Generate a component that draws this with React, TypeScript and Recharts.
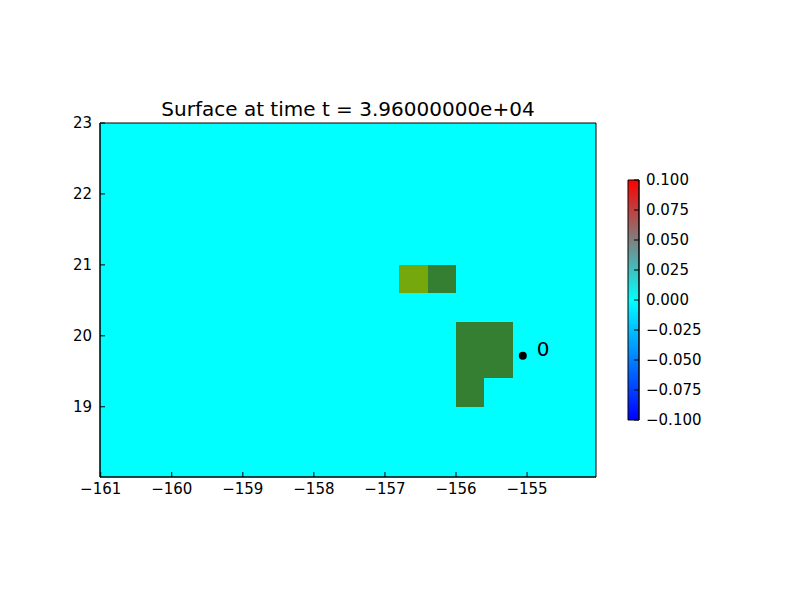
import React from 'react';
import { ComposedChart, XAxis, YAxis, ReferenceArea, Scatter } from 'recharts';

// Axis ticks
const xTicks = [-161, -160, -159, -158, -157, -156, -155];
const yTicks = [19, 20, 21, 22, 23];
const xDomain = [-161.01, -154.03];
const yDomain = [18.01, 23];

// Land cells (topography shown on the surface plot)
const cellLonMin = [-156.8, -156.4, -156.0, -156.0];
const cellLonMax = [-156.4, -156.0, -155.2, -155.6];
const cellLatMin = [20.6, 20.6, 19.4, 19.0];
const cellLatMax = [21.0, 21.0, 20.2, 19.4];
const cellLand = ['low', 'high', 'high', 'high'];

// Gauge
const gaugeLon = [-155.06];
const gaugeLat = [19.72];
const gaugeName = ['0'];

// Colorbar
const cbarTicks = [-0.1, -0.075, -0.05, -0.025, 0, 0.025, 0.05, 0.075, 0.1];
const cbarDomain = [-0.1, 0.1];
const cbarX = [0, 1];

const titleText = 'Surface at time t = 3.96000000e+04';

const landColors: Record<string, string> = { low: '#75A80C', high: '#357F33' };
const FONT = '"DejaVu Sans", sans-serif';

const fmtInt = (v: number) => (v < 0 ? '\u2212' + Math.abs(v) : String(v));
const fmtCbar = (v: number) => (v < 0 ? '\u2212' + Math.abs(v).toFixed(3) : v.toFixed(3));

const cells = cellLonMin.map((x, i) => ({
  x1: x,
  x2: cellLonMax[i],
  y1: cellLatMin[i],
  y2: cellLatMax[i],
  land: cellLand[i],
}));

const gauges = gaugeLon.map((x, i) => ({ x, y: gaugeLat[i], name: gaugeName[i] }));
const cbarData = cbarX.map((x) => ({ x, y: 0 }));

const GaugeShape = (props: any) => {
  const { cx, cy, payload } = props;
  return (
    <g>
      <circle cx={cx} cy={cy} r={4} fill="#000" />
      <text x={cx + 14} y={cy} fontSize={20} fontFamily={FONT} fill="#000">
        {payload.name}
      </text>
    </g>
  );
};

const tickStyle = { fill: '#000', fontSize: 15, fontFamily: FONT };

export default function App() {
  return (
    <div style={{ position: 'absolute', left: 0, top: 0, width: 800, height: 600, background: '#fff' }}>
      <div
        style={{
          position: 'absolute',
          left: 100,
          width: 496,
          top: 97,
          textAlign: 'center',
          fontFamily: FONT,
          fontSize: 20,
          color: '#000',
          whiteSpace: 'nowrap',
        }}
      >
        {titleText}
      </div>
      <div style={{ position: 'absolute', left: 0, top: 0 }}>
        <ComposedChart width={800} height={600} margin={{ top: 123, bottom: 93, left: 50, right: 204 }}>
          <XAxis
            xAxisId={0}
            type="number"
            dataKey="x"
            domain={xDomain}
            ticks={xTicks}
            allowDataOverflow
            tickFormatter={fmtInt}
            tick={tickStyle}
            tickSize={-5}
            tickMargin={11}
            height={30}
            axisLine={{ stroke: '#000' }}
            tickLine={{ stroke: '#000' }}
          />
          <XAxis
            xAxisId="top"
            orientation="top"
            type="number"
            domain={xDomain}
            ticks={xTicks}
            allowDataOverflow
            tickFormatter={() => ''}
            tickSize={-5}
            height={0}
            axisLine={{ stroke: '#000' }}
            tickLine={{ stroke: '#000' }}
          />
          <YAxis
            yAxisId={0}
            type="number"
            dataKey="y"
            domain={yDomain}
            ticks={yTicks}
            allowDataOverflow
            tickFormatter={fmtInt}
            tick={tickStyle}
            tickSize={-5}
            tickMargin={13}
            width={50}
            axisLine={{ stroke: '#000' }}
            tickLine={{ stroke: '#000' }}
          />
          <YAxis
            yAxisId="right"
            orientation="right"
            type="number"
            domain={yDomain}
            ticks={yTicks}
            allowDataOverflow
            tickFormatter={() => ''}
            tickSize={-5}
            width={0}
            axisLine={{ stroke: '#000' }}
            tickLine={{ stroke: '#000' }}
          />
          <ReferenceArea
            x1={xDomain[0]}
            x2={xDomain[1]}
            y1={yDomain[0]}
            y2={yDomain[1]}
            fill="#00FFFF"
            fillOpacity={1}
            stroke="none"
            shapeRendering="crispEdges"
          />
          {cells.map((c, i) => (
            <ReferenceArea
              key={i}
              x1={c.x1}
              x2={c.x2}
              y1={c.y1}
              y2={c.y2}
              fill={landColors[c.land]}
              fillOpacity={1}
              stroke="none"
              shapeRendering="crispEdges"
            />
          ))}
          <Scatter data={gauges} dataKey="y" shape={<GaugeShape />} isAnimationActive={false} />
          <ReferenceArea
            x1={xDomain[0]}
            x2={xDomain[1]}
            y1={yDomain[0]}
            y2={yDomain[1]}
            fill="none"
            stroke="#000"
            strokeWidth={1}
          />
        </ComposedChart>
      </div>
      <div style={{ position: 'absolute', left: 0, top: 0 }}>
        <ComposedChart
          width={800}
          height={600}
          data={cbarData}
          margin={{ top: 180, bottom: 180, left: 628, right: 101 }}
        >
          <defs>
            <linearGradient id="cbarGrad" x1="0" y1="0" x2="0" y2="1">
              <stop offset="0%" stopColor="#FF0000" />
              <stop offset="50%" stopColor="#00FFFF" />
              <stop offset="100%" stopColor="#0000FF" />
            </linearGradient>
          </defs>
          <XAxis type="number" dataKey="x" domain={cbarX} hide />
          <YAxis
            orientation="right"
            type="number"
            dataKey="y"
            domain={cbarDomain}
            ticks={cbarTicks}
            allowDataOverflow
            tickFormatter={fmtCbar}
            tick={{ ...tickStyle, textAnchor: 'start' }}
            tickSize={-5}
            tickMargin={12}
            width={60}
            interval={0}
            axisLine={{ stroke: '#000' }}
            tickLine={{ stroke: '#000' }}
          />
          <ReferenceArea
            x1={cbarX[0]}
            x2={cbarX[1]}
            y1={cbarDomain[0]}
            y2={cbarDomain[1]}
            fill="url(#cbarGrad)"
            fillOpacity={1}
            stroke="#000"
          />
        </ComposedChart>
      </div>
    </div>
  );
}
